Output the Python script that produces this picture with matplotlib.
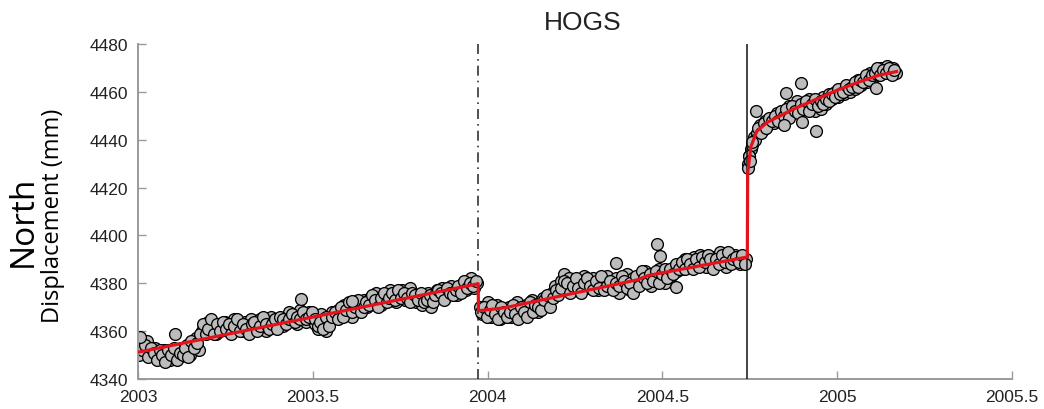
"""
HOGS north displacement time series with step + postseismic fit.
"""

import matplotlib
matplotlib.use("Agg")
import matplotlib.pyplot as plt
import numpy as np

plt.rcParams.update({
    "font.family": ["Liberation Sans", "DejaVu Sans"],
    "axes.unicode_minus": False,
})

# =============================
# Data
# =============================
STATION = "HOGS"
SAN_SIMEON = 2003.973   # dash-dot marker
PARKFIELD = 2004.743    # solid marker

# Segment 1: before San Simeon (two interleaved runs, regular sampling between the ends)
seg1_span = (2003.000, 2003.970)
seg1_north = [
    4353, 4355, 4351, 4356, 4352, 4350, 4353, 4351, 4349, 4352,
    4350, 4348, 4351, 4352, 4349, 4353, 4351, 4354, 4350, 4355,
    4357, 4352, 4360, 4362, 4364, 4360, 4362, 4359, 4363, 4361,
    4364, 4360, 4362, 4365, 4361, 4363, 4360, 4364, 4362, 4365,
    4361, 4363, 4365, 4362, 4360, 4364, 4366, 4362, 4365, 4363,
    4362, 4366, 4368, 4365, 4367, 4363, 4369, 4366, 4364, 4368,
    4366, 4363, 4361, 4367, 4365, 4360, 4364, 4368, 4366, 4369,
    4367, 4371, 4368, 4370, 4366, 4372, 4369, 4371, 4373, 4370,
    4374, 4372, 4376, 4373, 4371, 4375, 4373, 4377, 4374, 4372,
    4375, 4377, 4373, 4376, 4378, 4374, 4372, 4375, 4371, 4374,
    4376, 4370, 4374, 4377, 4375, 4378, 4374, 4376, 4379, 4377,
    4375, 4378, 4380, 4377, 4379, 4382, 4378, 4380,
]
seg1b_span = (2003.004, 2003.966)
seg1b_north = [
    4350, 4352, 4354, 4349, 4353, 4351, 4348, 4352, 4350, 4347,
    4352, 4350, 4353, 4348, 4351, 4350, 4353, 4349, 4356, 4353,
    4355, 4359, 4363, 4359, 4361, 4365, 4359, 4363, 4360, 4364,
    4361, 4363, 4359, 4362, 4365, 4360, 4363, 4361, 4359, 4363,
    4364, 4360, 4362, 4366, 4363, 4361, 4363, 4365, 4361, 4366,
    4365, 4363, 4365, 4367, 4364, 4366, 4365, 4368, 4365, 4366,
    4368, 4365, 4362, 4364, 4361, 4366, 4362, 4366, 4368, 4365,
    4370, 4366, 4369, 4372, 4368, 4370, 4373, 4368, 4370, 4372,
    4371, 4375, 4373, 4370, 4374, 4376, 4372, 4374, 4376, 4373,
    4377, 4374, 4376, 4374, 4372, 4376, 4375, 4373, 4376, 4372,
    4373, 4375, 4372, 4375, 4377, 4376, 4373, 4378, 4376, 4375,
    4377, 4379, 4376, 4381, 4378, 4380, 4379, 4381,
]

# Segment 2: between San Simeon and Parkfield
seg2_span = (2003.977, 2004.740)
seg2_north = [
    4370, 4367, 4369, 4372, 4366, 4368, 4371, 4365, 4369, 4367,
    4370, 4366, 4368, 4372, 4369, 4367, 4371, 4369, 4373, 4370,
    4368, 4372, 4374, 4371, 4373, 4376, 4379, 4377, 4381, 4384,
    4378, 4382, 4380, 4377, 4381, 4379, 4383, 4378, 4380, 4382,
    4379, 4377, 4381, 4380, 4383, 4378, 4380, 4382, 4376, 4381,
    4379, 4384, 4377, 4382, 4380, 4383, 4381, 4385, 4382, 4379,
    4384, 4382, 4386, 4383, 4380, 4385, 4383, 4387, 4385, 4388,
    4386, 4390, 4387, 4389, 4391, 4388, 4392, 4389, 4387, 4390,
    4388, 4391, 4389, 4393, 4390, 4387, 4391, 4389, 4392, 4390,
    4388, 4391, 4390,
]
seg2b_span = (2003.981, 2004.736)
seg2b_north = [
    4368, 4370, 4366, 4369, 4371, 4367, 4365, 4370, 4368, 4366,
    4368, 4371, 4367, 4365, 4370, 4368, 4366, 4372, 4368, 4371,
    4370, 4369, 4373, 4375, 4370, 4374, 4377, 4375, 4378, 4381,
    4380, 4376, 4379, 4382, 4378, 4376, 4380, 4382, 4379, 4377,
    4381, 4378, 4383, 4377, 4379, 4381, 4377, 4380, 4379, 4383,
    4381, 4378, 4380, 4376, 4383, 4379, 4385, 4382, 4380, 4384,
    4381, 4385, 4380, 4384, 4386, 4382, 4386, 4384, 4388, 4386,
    4389, 4386, 4390, 4388, 4386, 4390, 4387, 4391, 4389, 4392,
    4390, 4386, 4390, 4388, 4392, 4389, 4393, 4388, 4390, 4391,
    4389, 4392, 4388,
]

# Segment 3: after Parkfield
seg3_span = (2004.745, 2005.168)
seg3_north = [
    4430, 4436, 4441, 4443, 4446, 4444, 4448, 4446, 4449, 4447,
    4451, 4449, 4452, 4450, 4454, 4451, 4453, 4456, 4452, 4455,
    4453, 4457, 4454, 4452, 4456, 4453, 4458, 4455, 4459, 4457,
    4460, 4458, 4461, 4459, 4462, 4460, 4463, 4461, 4465, 4463,
    4466, 4464, 4468, 4466, 4469, 4467, 4470, 4468, 4471, 4469,
    4470, 4468,
]
seg3b_span = (2004.749, 2005.164)
seg3b_north = [
    4433, 4438, 4440, 4445, 4443, 4447, 4445, 4449, 4448, 4450,
    4448, 4452, 4450, 4453, 4449, 4454, 4452, 4451, 4455, 4453,
    4456, 4452, 4455, 4457, 4454, 4456, 4455, 4457, 4456, 4459,
    4458, 4461, 4459, 4460, 4463, 4461, 4462, 4464, 4462, 4465,
    4464, 4467, 4465, 4467, 4468, 4470, 4467, 4469, 4468, 4470,
    4467, 4469,
]

# Isolated points away from the main band
extra_t = [2003.005, 2003.106, 2003.466, 2003.612,
           2004.366, 2004.486, 2004.492, 2004.538,
           2004.746, 2004.748, 2004.750, 2004.757,
           2004.768, 2004.849, 2004.853, 2004.896, 2004.899, 2004.939, 2005.110]
extra_north = [4357.5, 4358.7, 4373.3, 4372.6,
               4388.6, 4396.3, 4391.2, 4378.5,
               4428, 4433, 4431, 4439,
               4451.8, 4446.2, 4459.4, 4463.6, 4447.6, 4443.5, 4461.7]

# Model fit (red), vertices
fit_t = [2003.000, 2003.973, 2003.974, 2004.050, 2004.430, 2004.460, 2004.743,
         2004.744, 2004.753, 2004.770, 2004.800, 2004.837, 2004.870, 2004.910,
         2004.960, 2005.005, 2005.060, 2005.120, 2005.170]
fit_north = [4351.2, 4379.8, 4368.5, 4369.8, 4381.5, 4383.3, 4391.0,
             4426.0, 4437.0, 4443.5, 4447.3, 4450.0, 4452.5, 4455.0,
             4458.2, 4461.0, 4464.0, 4467.0, 4468.5]

MARKER = dict(ls="none", marker="o", ms=8.5, mfc="#bcbcbc", mec="#000000", mew=0.95, zorder=2)


def main() -> None:
    fig = plt.figure(figsize=(10.44, 4.10), dpi=100)
    ax = fig.add_axes([0.1322, 0.0732, 0.8371, 0.8170])

    runs = [
        (seg1_span, seg1_north), (seg1b_span, seg1b_north),
        (seg2_span, seg2_north), (seg2b_span, seg2b_north),
        (seg3_span, seg3_north), (seg3b_span, seg3b_north),
    ]
    for span, vals in runs:
        t = np.linspace(span[0], span[1], len(vals))
        ax.plot(t, vals, **MARKER)
    ax.plot(extra_t, extra_north, **MARKER)

    ax.axvline(SAN_SIMEON, color="#333333", lw=1.2, ls=(0, (6, 3, 1, 3)), zorder=3)
    ax.axvline(PARKFIELD, color="#111111", lw=1.1, zorder=3)
    ax.plot(fit_t, fit_north, color="#e4131b", lw=2.3, zorder=4)

    ax.set_xlim(2003, 2005.5)
    ax.set_ylim(4340, 4480)
    ax.set_xticks([2003, 2003.5, 2004, 2004.5, 2005, 2005.5])
    ax.set_xticklabels(["2003", "2003.5", "2004", "2004.5", "2005", "2005.5"])
    ax.set_yticks(np.arange(4340, 4481, 20))

    for side in ["top", "right"]:
        ax.spines[side].set_visible(False)
    for side in ["left", "bottom"]:
        ax.spines[side].set_color("#9a9a9a")
        ax.spines[side].set_linewidth(1.4)
    ax.tick_params(direction="in", length=6, width=1.0, color="#9a9a9a",
                   labelsize=12.5, labelcolor="#222222")
    ax.tick_params(axis="y", pad=7)
    ax.tick_params(axis="x", pad=7)

    ax.set_title(STATION, fontsize=19, color="#222222", pad=11, x=0.509)

    # two-line y label: large "North" above smaller "Displacement (mm)"
    fig.text(0.022, 0.461, "North", rotation=90, ha="center", va="center",
             fontsize=24, family=["Open Sans", "DejaVu Sans"])
    fig.text(0.051, 0.473, "Displacement (mm)", rotation=90, ha="center", va="center",
             fontsize=17, family=["Open Sans", "DejaVu Sans"])

    fig.savefig("out.png", dpi=100)
    plt.close(fig)


if __name__ == "__main__":
    main()
